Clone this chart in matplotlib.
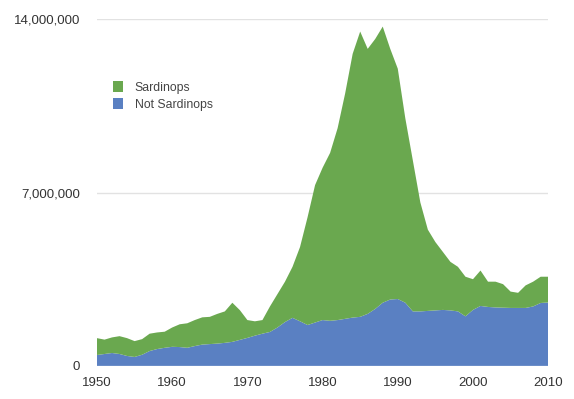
import matplotlib
matplotlib.use("Agg")
import matplotlib.pyplot as plt
import numpy as np
from matplotlib.patches import Patch
from matplotlib.ticker import FuncFormatter

plt.rcParams['font.family'] = ['Liberation Sans', 'DejaVu Sans']

years = list(range(1950, 2011))
# catch in millions of tonnes
not_sardinops = [0.44, 0.48, 0.52, 0.48, 0.40, 0.36, 0.45, 0.60, 0.68, 0.73,
                 0.77, 0.76, 0.73, 0.80, 0.86, 0.88, 0.90, 0.93, 0.97, 1.05,
                 1.13, 1.22, 1.30, 1.37, 1.55, 1.77, 1.94, 1.80, 1.65, 1.75,
                 1.85, 1.82, 1.85, 1.90, 1.95, 1.98, 2.10, 2.30, 2.55, 2.68,
                 2.70, 2.55, 2.20, 2.20, 2.22, 2.24, 2.26, 2.24, 2.20, 2.00,
                 2.26, 2.42, 2.38, 2.36, 2.35, 2.34, 2.34, 2.34, 2.40, 2.54,
                 2.56]
sardinops = [0.68, 0.58, 0.63, 0.72, 0.72, 0.64, 0.63, 0.70, 0.67, 0.65,
             0.78, 0.92, 0.99, 1.05, 1.10, 1.10, 1.20, 1.27, 1.58, 1.20,
             0.72, 0.58, 0.55, 1.03, 1.35, 1.63, 2.06, 3.00, 4.35, 5.55,
             6.15, 6.78, 7.75, 9.10, 10.65, 11.52, 10.70, 10.90, 11.15, 10.12,
             9.30, 7.45, 6.10, 4.40, 3.28, 2.76, 2.34, 1.96, 1.80, 1.60,
             1.24, 1.43, 1.02, 1.04, 0.95, 0.66, 0.61, 0.91, 1.00, 1.06,
             1.04]
series_labels = ["Sardinops", "Not Sardinops"]
y_ticks = [0, 7000000, 14000000]
x_ticks = [1950, 1960, 1970, 1980, 1990, 2000, 2010]

green = "#6aa84f"
blue = "#5a80c2"

fig = plt.figure(figsize=(5.74, 3.99), dpi=100)
ax = fig.add_axes([0.169, 0.083, 0.786, 0.869])

ns = np.array(not_sardinops) * 1e6
sa = np.array(sardinops) * 1e6
ax.stackplot(years, ns, sa, colors=[blue, green], linewidth=0)

ax.set_xlim(1950, 2010)
ax.set_ylim(0, 14000000)
ax.set_yticks(y_ticks)
ax.set_xticks(x_ticks)
ax.yaxis.set_major_formatter(FuncFormatter(lambda v, p: f"{int(v):,}"))
ax.grid(axis='y', color='#e2e2e2', linewidth=1)
ax.set_axisbelow(True)
for s in ax.spines.values():
    s.set_visible(False)
ax.tick_params(axis='both', length=0, labelsize=9.5, colors='#333333')
ax.tick_params(axis='y', pad=12)
ax.tick_params(axis='x', pad=8)

handles = [Patch(facecolor=green, edgecolor='none'),
           Patch(facecolor=blue, edgecolor='none')]
fig.legend(handles, series_labels, loc='upper left', bbox_to_anchor=(0.177, 0.825),
           frameon=False, fontsize=8.8, handlelength=0.82, handleheight=1.05,
           handletextpad=1.0, labelspacing=0.35, labelcolor='#444444')

fig.savefig("out.png", dpi=100)
